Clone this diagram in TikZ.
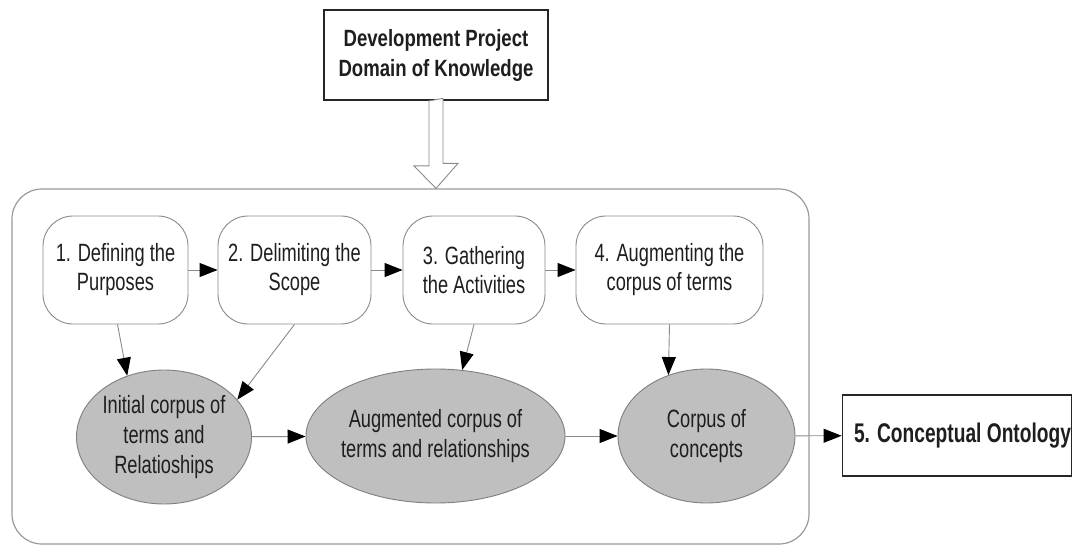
\documentclass[tikz,border=0pt]{standalone}
\usepackage{fontspec}
\setmainfont{Liberation Sans}
\newfontfamily\cf[FakeStretch=0.73]{Liberation Sans}
\newfontfamily\cfb[FakeStretch=0.79]{Liberation Sans}
\newfontfamily\cfc[FakeStretch=0.71]{Liberation Sans}
\usetikzlibrary{shapes.geometric,arrows.meta}
\definecolor{gray50}{HTML}{8A8A8A}
\definecolor{ellfill}{HTML}{BFBFBF}
\definecolor{ellgr}{HTML}{7F7F7F}
\definecolor{txt}{HTML}{1E1E1E}
\definecolor{outergr}{HTML}{9A9A9A}
\begin{document}
\begin{tikzpicture}[x=1pt,y=-1pt,
  stepbox/.style={draw=gray50, fill=white, rounded corners=30pt, minimum height=108pt, inner sep=0pt, align=center, font=\cf\fontsize{25}{29}\selectfont, text=txt, line width=0.9pt},
  corpus/.style={ellipse, draw=ellgr, fill=ellfill, minimum height=134pt, inner sep=0pt, align=center, font=\cf\fontsize{25}{30}\selectfont, text=txt, line width=0.9pt},
  hardbox/.style={draw=black!85, fill=white, line width=1.8pt, inner sep=0pt, align=center, text=txt},
  flow/.style={draw=gray50, line width=0.9pt, -{Triangle[length=18pt,width=14pt,color=black]}},
  hollow/.style={draw=gray50, fill=white, line width=0.9pt}
]
\useasboundingbox (0,0) rectangle (1073,545);
\node[draw=outergr, line width=1.2pt, rounded corners=30pt, minimum width=797pt, minimum height=355pt, inner sep=0pt] (outer) at (410.5,366.5) {};
\node[hardbox, minimum width=224pt, minimum height=90pt, font=\cfb\bfseries\fontsize{23.5}{30}\selectfont] (top) at (436,55) {Development Project\\Domain of Knowledge};
\draw[hollow] (top.south) ++(-7,0) -- ++(0,65) -- ++(-15,0) -- (top.south |- outer.north) -- ++(22,-25) -- ++(-15,0) -- ++(0,-65) -- cycle;

\node[stepbox, minimum width=145pt] (b1) at (115.5,270) {1. Defining the\\Purposes};
\node[stepbox, minimum width=153pt] (b2) at (294.5,270) {2. Delimiting the\\Scope};
\node[stepbox, minimum width=142pt] (b3) at (474,270) {3. Gathering\\the Activities};
\node[stepbox, minimum width=187pt] (b4) at (669.5,270) {4. Augmenting the\\corpus of terms};

\node[corpus, minimum width=175pt] (e1) at (164,437) {Initial corpus of\\terms and\\Relatioships};
\node[corpus, minimum width=259pt, inner xsep=-4pt] (e2) at (435.5,436) {Augmented corpus of\\terms and relationships};
\node[corpus, minimum width=177pt] (e3) at (706.5,436) {Corpus of\\concepts};

\node[hardbox, minimum width=229pt, minimum height=81pt, font=\cfc\bfseries\fontsize{27}{30}\selectfont] (c5) at (957,435.5) {\hspace*{11pt}5. Conceptual Ontology};

\draw[flow] (b1) -- (b2);
\draw[flow] (b2) -- (b3);
\draw[flow] (b3) -- (b4);
\draw[flow] ([xshift=2pt]b1.south) -- (e1.121);
\draw[flow] (b2.south) -- (e1.27);
\draw[flow] (b3.south) -- (e2.68);
\draw[flow] (b4.south) -- (e3.122);
\draw[flow] (e1) -- (e2);
\draw[flow] (e2) -- (e3);
\draw[flow] (e3) -- (c5);
\end{tikzpicture}
\end{document}
